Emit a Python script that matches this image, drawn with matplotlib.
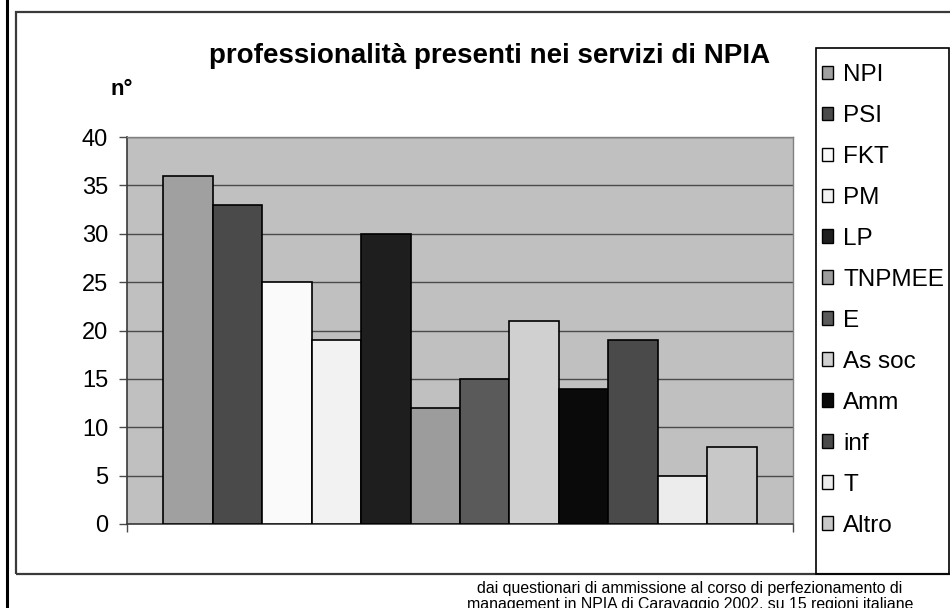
import matplotlib
matplotlib.use("Agg")
import matplotlib.pyplot as plt
from matplotlib.patches import Rectangle, Patch
from matplotlib.lines import Line2D

# Professional roles in child neuropsychiatry (NPIA) services
categories = ["NPI", "PSI", "FKT", "PM", "LP", "TNPMEE", "E",
              "As soc", "Amm", "inf", "T", "Altro"]
values = [36, 33, 25, 19, 30, 12, 15, 21, 14, 19, 5, 8]
colors = ["#a0a0a0", "#4a4a4a", "#fafafa", "#f2f2f2", "#1e1e1e", "#9c9c9c",
          "#5a5a5a", "#d0d0d0", "#0a0a0a", "#4a4a4a", "#ececec", "#c8c8c8"]
y_ticks = [0, 5, 10, 15, 20, 25, 30, 35, 40]

title = "professionalità presenti nei servizi di NPIA"
y_label = "n°"
note_lines = ["dai questionari di ammissione al corso di perfezionamento di",
              "management in NPIA di Caravaggio 2002, su 15 regioni italiane"]

plt.rcParams["font.family"] = ["Liberation Sans", "DejaVu Sans"]

W, H = 950, 608
fig = plt.figure(figsize=(W / 100, H / 100), dpi=100)
fig.patch.set_facecolor("white")


def fx(px):
    return px / W


def fy(py):
    return 1 - py / H


# page border line on the far left
fig.add_artist(Line2D([fx(7), fx(7)], [0, 1], color="black", lw=2.2,
                      transform=fig.transFigure))
# chart area frame
fig.add_artist(Rectangle((fx(15.5), fy(574)), fx(960) - fx(15.5),
                         fy(12) - fy(574), transform=fig.transFigure,
                         fill=False, edgecolor="#3a3a3a", lw=1.6))

# plot area
ax = fig.add_axes([fx(127), fy(524), fx(793) - fx(127), fy(137) - fy(524)])
ax.set_facecolor("#c0c0c0")
n = len(values)
x = list(range(n))
ax.bar(x, values, width=1.0, color=colors, edgecolor="black", linewidth=1.2,
       zorder=3)
ax.set_ylim(0, 40)
pad = 0.73
ax.set_xlim(-0.5 - pad, n - 0.5 + pad)
ax.set_yticks(y_ticks)
ax.set_yticklabels([str(v) for v in y_ticks], fontsize=17)
ax.yaxis.grid(True, color="#4a4a4a", lw=1.0, zorder=1)
ax.set_axisbelow(True)
ax.tick_params(axis="y", direction="out", length=6, width=1.0,
               color="#4a4a4a", pad=7.5)
ax.set_xticks([-0.5 - pad, n - 0.5 + pad])
ax.set_xticklabels([])
ax.tick_params(axis="x", direction="out", length=6, width=1.0,
               color="#4a4a4a")
for side in ["left", "bottom"]:
    ax.spines[side].set_color("#3a3a3a")
    ax.spines[side].set_linewidth(1.2)
for side in ["top", "right"]:
    ax.spines[side].set_color("#808080")
    ax.spines[side].set_linewidth(1.0)

# title, axis unit and source note
fig.text(fx(490), fy(63), title, ha="center", va="baseline", fontsize=20,
         fontweight="bold")
fig.text(fx(122), fy(95), y_label, ha="center", va="baseline", fontsize=16,
         fontweight="bold")
for i, line in enumerate(note_lines):
    fig.text(fx(690), fy(593 + 15.5 * i), line, ha="center", va="baseline",
             fontsize=11.4)

# legend box
fig.add_artist(Rectangle((fx(816), fy(574)), fx(949) - fx(816),
                         fy(48) - fy(574), transform=fig.transFigure,
                         fill=False, edgecolor="black", lw=1.2))
handles = [Patch(facecolor=c, edgecolor="black", linewidth=1.0)
           for c in colors]
leg = fig.legend(handles, categories, loc="upper left",
                 bbox_to_anchor=(fx(822), fy(64)), frameon=False,
                 fontsize=17.5, handlelength=0.47, handleheight=0.47,
                 handletextpad=0.4, labelspacing=0.78, borderpad=0,
                 borderaxespad=0)

fig.savefig("out.png", dpi=100)
